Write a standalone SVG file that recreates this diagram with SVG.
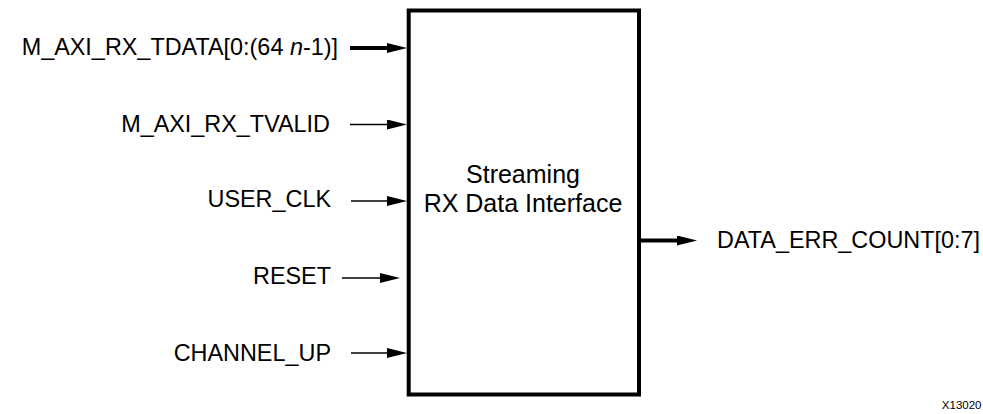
<svg xmlns="http://www.w3.org/2000/svg" width="983" height="414" viewBox="0 0 983 414">
<style>
  .lbl { font-family: "Liberation Sans", Arial, sans-serif; font-size: 23.4px; fill: #000; }
  .ctr { font-family: "Liberation Sans", Arial, sans-serif; font-size: 25px; fill: #000; text-anchor: middle; }
  .thin { stroke: #000; stroke-width: 1.5; fill: none; marker-end: url(#ah); }
  .bus { stroke: #000; stroke-width: 4; fill: none; marker-end: url(#ah); }
  .box { fill: #fff; stroke: #000; stroke-width: 4; }
</style>
<defs>
  <marker id="ah" markerUnits="userSpaceOnUse" viewBox="0 0 20 10" refX="2" refY="5" markerWidth="20" markerHeight="10" orient="auto">
    <path d="M0,0 L20,5 L0,10 z" fill="#000"/>
  </marker>
</defs>
<rect width="983" height="414" fill="#fff"/>
<g id="block">
  <rect class="box" x="408.7" y="10.5" width="230.3" height="384"/>
  <text class="ctr" x="523" y="182.5">Streaming</text>
  <text class="ctr" x="523" y="211.5">RX Data Interface</text>
</g>
<g id="labels">
  <text id="lbl-tdata" class="lbl" x="338" y="54.5" text-anchor="end">M_AXI_RX_TDATA[0:(64 <tspan font-style="italic">n</tspan>-1)]</text>
  <text id="lbl-tvalid" class="lbl" x="330" y="131.5" text-anchor="end">M_AXI_RX_TVALID</text>
  <text id="lbl-userclk" class="lbl" x="331" y="207" text-anchor="end">USER_CLK</text>
  <text id="lbl-reset" class="lbl" x="331" y="284" text-anchor="end">RESET</text>
  <text id="lbl-chup" class="lbl" x="331" y="360.5" text-anchor="end">CHANNEL_UP</text>
  <text id="lbl-errcnt" class="lbl" x="717" y="248">DATA_ERR_COUNT[0:7]</text>
</g>
<g id="connectors">
  <line class="bus" x1="350" y1="48" x2="389" y2="48"/>
  <line class="thin" x1="350" y1="124.5" x2="389" y2="124.5"/>
  <line class="thin" x1="351" y1="201" x2="389" y2="201"/>
  <line class="thin" x1="342" y1="278" x2="382" y2="278"/>
  <line class="thin" x1="351" y1="353" x2="389" y2="353"/>
  <line class="bus" x1="641" y1="240.5" x2="679" y2="240.5"/>
</g>
<text class="lbl" x="981.5" y="409" text-anchor="end" style="font-size:11.5px">X13020</text>
</svg>
